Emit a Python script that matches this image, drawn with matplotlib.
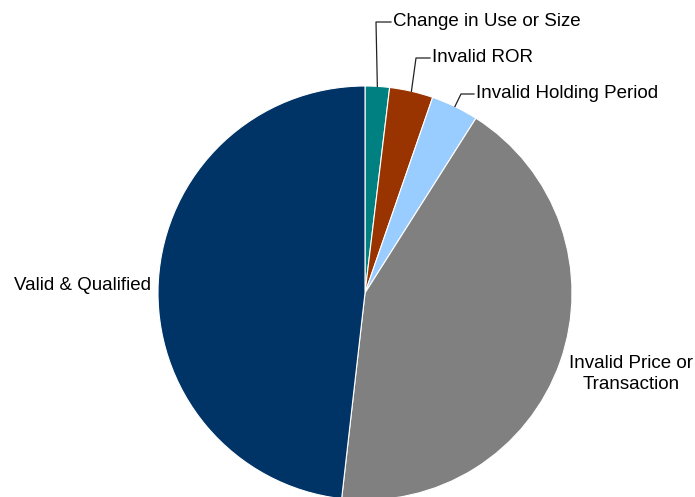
import numpy as np
import matplotlib
matplotlib.use("Agg")
import matplotlib.pyplot as plt

labels = ["Change in Use or Size", "Invalid ROR", "Invalid Holding Period",
          "Invalid Price or\nTransaction", "Valid & Qualified"]
values = [1.9, 3.4, 3.7, 42.8, 48.2]
colors = ["#008080", "#993300", "#99CCFF", "#808080", "#003366"]

W, H = 695, 497
fig = plt.figure(figsize=(W / 100, H / 100), dpi=100)
plt.rcParams['font.family'] = ['Liberation Sans', 'DejaVu Sans']

cx, cy, R = 365, 293, 207  # pixel layout of pie
ax = fig.add_axes([(cx - R) / W, (H - cy - R) / H, 2 * R / W, 2 * R / H])

wedges, _ = ax.pie(values, colors=colors, startangle=90, counterclock=False,
                   radius=1.0, wedgeprops=dict(edgecolor='white', linewidth=0.8))
ax.set_xlim(-1, 1)
ax.set_ylim(-1, 1)
ax.set_aspect('equal')
ax.axis('off')
for w in wedges:
    w.set_clip_on(False)

def px2d(x, y):
    return (x - cx) / R, (cy - y) / R

fs = 13.5
elbows = [((376, 22), (391, 22)), ((416, 58), (430, 58)), ((461, 94), (474, 94))]
for i, (w, (e1, e2)) in enumerate(zip(wedges[:3], elbows)):
    ang = np.deg2rad((w.theta1 + w.theta2) / 2)
    sx, sy = np.cos(ang), np.sin(ang)
    p1 = px2d(*e1)
    p2 = px2d(*e2)
    ax.plot([sx, p1[0], p2[0]], [sy, p1[1], p2[1]], color='#222222', lw=0.9,
            clip_on=False)
    ax.text(p2[0] + 2 / R, p2[1], labels[i], fontsize=fs, ha='left', va='center',
            color='black', clip_on=False)

p = px2d(82, 285)
ax.text(p[0], p[1], labels[4], fontsize=fs, ha='center', va='center', clip_on=False)
p = px2d(631, 374)
ax.text(p[0], p[1], labels[3], fontsize=fs, ha='center', va='center',
        linespacing=1.35, clip_on=False)

fig.savefig("out.png", dpi=100, facecolor='white')
